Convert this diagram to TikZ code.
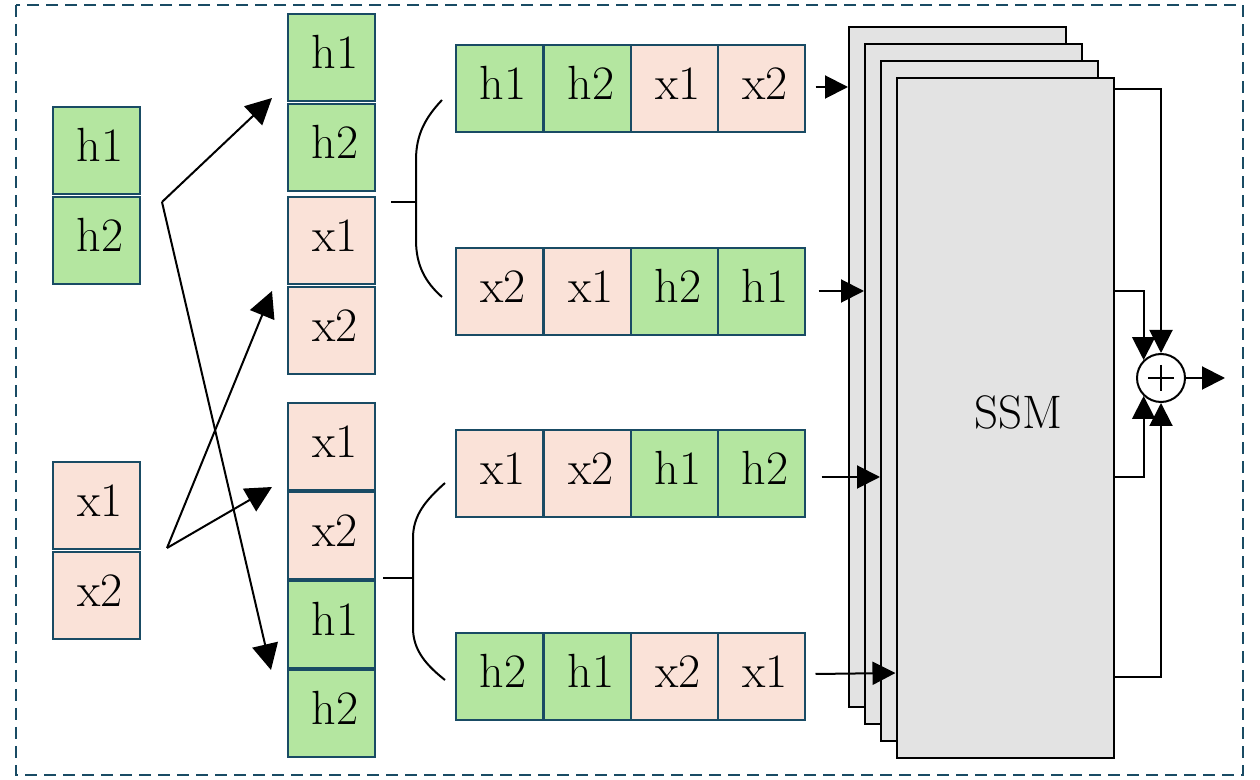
\documentclass[tikz,border=0pt]{standalone}
\usetikzlibrary{arrows.meta,calc}
\definecolor{teal}{RGB}{25,75,100}
\definecolor{hgreen}{RGB}{180,230,160}
\definecolor{xpink}{RGB}{250,226,216}
\definecolor{ssmgray}{RGB}{227,227,227}
\tikzset{
  cell/.style={draw=teal, line width=1pt, minimum width=43.5pt, minimum height=43.5pt, inner sep=0pt,
    font=\fontsize{24}{28}\selectfont, text height=16.5pt, text depth=5.5pt},
  hc/.style={cell, fill=hgreen},
  xc/.style={cell, fill=xpink},
  ssmbox/.style={draw=black, line width=1pt, fill=ssmgray, minimum width=108.5pt, minimum height=340pt, inner sep=0pt},
  arr/.style={line width=1pt, -{Triangle[length=13pt,width=13pt]}},
  sarr/.style={line width=1pt, -{Triangle[length=11.5pt,width=11.5pt]}},
  ln/.style={line width=1pt},
}
\begin{document}
\begin{tikzpicture}[x=0.5pt,y=-0.5pt]
\useasboundingbox (0,0) rectangle (1260,780);
\draw[teal, line width=1pt, dash pattern=on 6pt off 3.5pt] (16,5) rectangle (1243,775);

% left column
\node[hc] (lh1) at (96,151) {\,h1};
\node[hc] (lh2) at (96,241) {\,h2};
\node[xc] (lx1) at (96,506) {\,x1};
\node[xc] (lx2) at (96,596) {\,x2};

% middle column top
\node[hc] (th1) at (331,58) {\,h1};
\node[hc] (th2) at (331,148) {\,h2};
\node[xc] (tx1) at (331,241) {\,x1};
\node[xc] (tx2) at (331,331) {\,x2};

% middle column bottom
\node[xc] (bx1) at (331,447) {\,x1};
\node[xc] (bx2) at (331,536) {\,x2};
\node[hc] (bh1) at (331,625) {\,h1};
\node[hc] (bh2) at (331,714) {\,h2};

% rows
\node[hc] (r1a) at (499,89) {\,h1};
\node[hc] (r1b) at (587,89) {\,h2};
\node[xc] (r1c) at (674,89) {\,x1};
\node[xc] (r1d) at (761,89) {\,x2};

\node[xc] (r2a) at (499,292) {\,x2};
\node[xc] (r2b) at (587,292) {\,x1};
\node[hc] (r2c) at (674,292) {\,h2};
\node[hc] (r2d) at (761,292) {\,h1};

\node[xc] (r3a) at (499,474) {\,x1};
\node[xc] (r3b) at (587,474) {\,x2};
\node[hc] (r3c) at (674,474) {\,h1};
\node[hc] (r3d) at (761,474) {\,h2};

\node[hc] (r4a) at (499,677) {\,h2};
\node[hc] (r4b) at (587,677) {\,h1};
\node[xc] (r4c) at (674,677) {\,x2};
\node[xc] (r4d) at (761,677) {\,x1};

% crossing arrows
\coordinate (jh) at (162,202);
\coordinate (jx) at (167,548);
\coordinate (t1) at (272,98);
\coordinate (t2) at (272,291);
\coordinate (t3) at (272,487);
\coordinate (t4) at (271,670);
\draw[arr] (jh) -- (t1);
\draw[arr] (jh) -- (t4);
\draw[arr] (jx) -- (t2);
\draw[arr] (jx) -- (t3);

% braces
\coordinate (b1) at (391,202);
\coordinate (b2) at (383,578);
\draw[ln] (b1) -- (416,202);
\draw[ln] (442,100) .. controls (425,118) and (416,135) .. (416,160) -- (416,240) .. controls (416,265) and (425,282) .. (442,297);
\draw[ln] (b2) -- (413,578);
\draw[ln] (445,483) .. controls (426,500) and (413,515) .. (413,538) -- (413,628) .. controls (413,650) and (426,665) .. (445,680);

% SSM stack
\node[ssmbox] (s1) at (957.5,367) {};
\node[ssmbox] (s2) at (973.5,384) {};
\node[ssmbox] (s3) at (989.5,401) {};
\node[ssmbox] (s4) at (1005,418) {};
\node[font=\fontsize{23.5}{26}\selectfont] (ssmlabel) at (1018,412) {SSM};

% inputs
\draw[sarr] ($(r1d.east)+(10,-2)$) -- (s1.west |- 0,87);
\draw[sarr] ($(r2d.east)+(13,-1)$) -- (s2.west |- 0,291);
\draw[sarr] ($(r3d.east)+(16,3)$) -- (s3.west |- 0,477);
\draw[sarr] ($(r4d.east)+(10,-3)$) -- (s4.west |- 0,673);

% plus
\node[draw, circle, line width=1pt, minimum size=24pt, inner sep=0pt, fill=white] (plus) at (1161,378) {};
\draw[line width=0.8pt] ($(plus.center)+(-13,0)$) -- ($(plus.center)+(13,0)$);
\draw[line width=0.8pt] ($(plus.center)+(0,-13)$) -- ($(plus.center)+(0,13)$);

% outputs
\draw[sarr] (s4.east |- 0,89) -| (plus.north);
\draw[sarr] (s4.east |- 0,291) -| (plus.134);
\draw[sarr] (s4.east |- 0,477) -| (plus.226);
\draw[sarr] (s4.east |- 0,677) -| (plus.south);
\coordinate (out) at (1225,378);
\draw[sarr] (plus.east) -- (out);
\end{tikzpicture}
\end{document}
